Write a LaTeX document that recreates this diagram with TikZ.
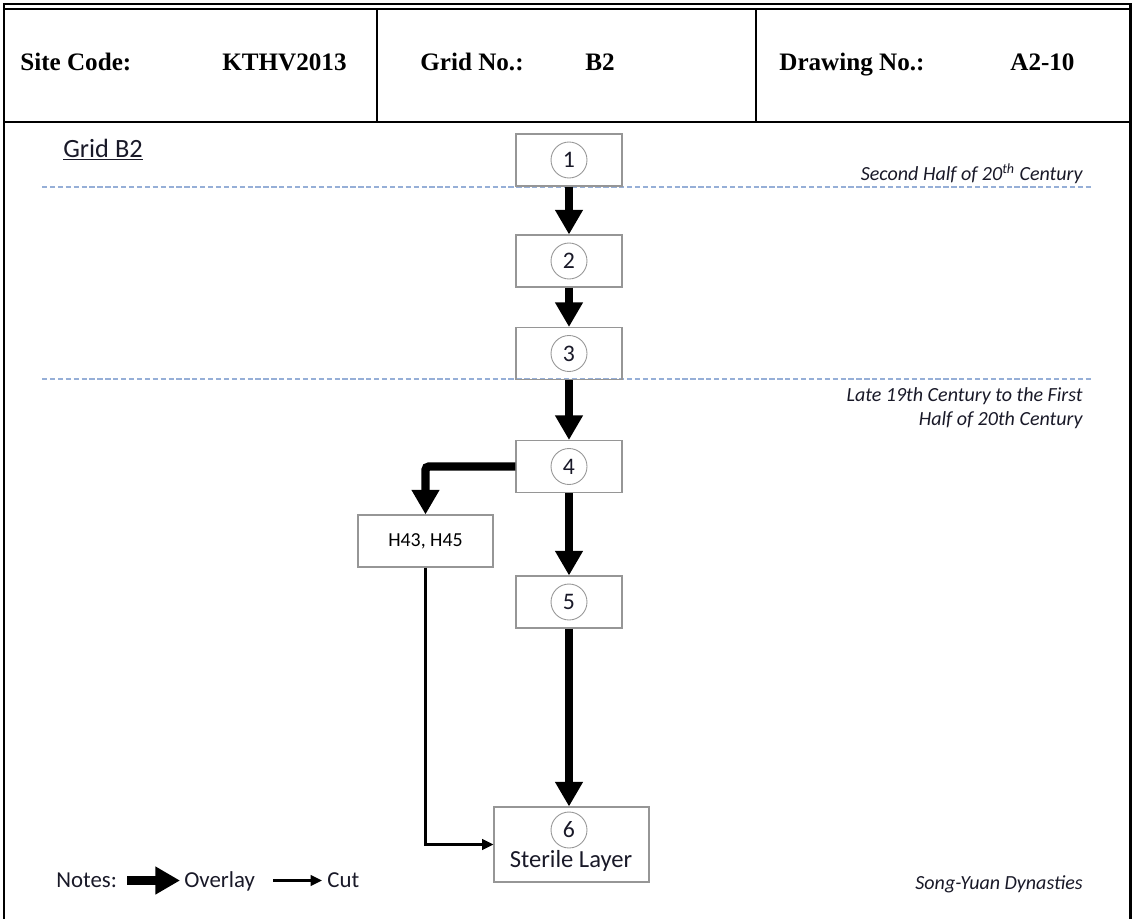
\documentclass[tikz,border=0pt]{standalone}
\usepackage{fontspec}
\setmainfont{Carlito}
\newfontfamily\headfont{Liberation Serif}
\usetikzlibrary{arrows.meta}

\definecolor{boxgray}{RGB}{150,150,150}
\definecolor{dashblue}{RGB}{150,175,215}
\definecolor{inkdark}{RGB}{25,25,40}

\begin{document}
\begin{tikzpicture}[x=0.02cm, y=-0.02cm,
    layer/.style={draw=boxgray, line width=0.6pt, minimum width=2.12cm, minimum height=1.04cm, inner sep=0pt},
    num/.style={draw=boxgray, line width=0.5pt, circle, minimum size=0.72cm, inner sep=0pt,
        font=\fontsize{13.5}{13.5}\selectfont, text=inkdark},
    overlay arrow/.style={line width=4.8pt, -{Triangle[length=14pt,width=15pt]}},
    cut arrow/.style={line width=1.5pt, -{Triangle[length=6.5pt,width=6pt]}},
    period/.style={font=\fontsize{11.4}{13.6}\selectfont\itshape, anchor=east, align=right,
        inner sep=0pt, text=inkdark},
    head/.style={font=\headfont\bfseries\fontsize{14.3}{16}\selectfont, anchor=base west, inner sep=0pt},
    plain/.style={anchor=base west, inner sep=0pt, text=inkdark},
    era line/.style={dashblue, line width=1.2pt, dash pattern=on 3pt off 1.5pt}]
    \useasboundingbox (0,0) rectangle (1132,919);

    % frame and header
    \draw[line width=1.7pt] (4,919) -- (4,4) -- (1130,4) -- (1130,919);
    \draw[line width=1pt] (4,9) -- (1130,9);
    \draw[line width=1.2pt] (4,122) -- (1130,122);
    \draw[line width=1.2pt] (377,9) -- (377,122);
    \draw[line width=1.2pt] (756,9) -- (756,122);

    \node[head] (site) at (20,71) {Site Code:};
    \node[head] (sitecode) at (222,71) {KTHV2013};
    \node[head] (grid) at (420,71) {Grid No.:};
    \node[head] (gridno) at (585,71) {B2};
    \node[head] (drawing) at (779,71) {Drawing No.:};
    \node[head] (drawingno) at (1010,71) {A2-10};

    % periods
    \node[plain, font=\fontsize{15}{15}\selectfont] (title) at (63,157) {\underline{Grid B2}};
    \draw[era line] (42,187) -- (1093,187);
    \draw[era line] (42,379) -- (1093,379);
    \node[period] (p1) at (1083,174) {Second Half of 20\textsuperscript{th} Century};
    \node[period] (p2) at (1083,408) {Late 19th Century to the First\\Half of 20th Century};
    \node[period] (p3) at (1083,884) {Song-Yuan Dynasties};

    % layers
    \foreach \n/\y in {1/160,2/261,3/353.5,4/466.5,5/602} {
        \node[layer] (b\n) at (569,\y) {};
        \node[num] (c\n) at (b\n) {\n};
    }
    \node[layer, minimum width=2.7cm] (h43) at (425.5,541) {\fontsize{11.3}{11.3}\selectfont H43, H45};
    \node[layer, minimum width=3.1cm, minimum height=1.5cm] (b6) at (571.5,844.5) {};
    \node[num] (c6) at (569,830) {6};
    \node[inner sep=0pt, text=inkdark, font=\fontsize{14}{14}\selectfont] (sterile) at (571,861) {Sterile Layer};

    \draw[overlay arrow] (b1) -- (b2);
    \draw[overlay arrow] (b2) -- (b3);
    \draw[overlay arrow] (b3) -- (b4);
    \draw[overlay arrow] (b4) -- (b5);
    \draw[overlay arrow] (b5) -- (b5.south |- b6.north);
    \draw[overlay arrow, rounded corners=2pt] (b4.west) -| (h43.north);
    \draw[cut arrow] (h43.south) |- (b6.west);

    % legend
    \node[plain, font=\fontsize{13}{13}\selectfont] (notes) at (56,887) {Notes:};
    \node[plain, font=\fontsize{13}{13}\selectfont] (lgover) at (184,887) {Overlay};
    \node[plain, font=\fontsize{13}{13}\selectfont] (lgcut) at (327,887) {Cut};
    \draw[overlay arrow] ([xshift=0.2cm, yshift=0.13cm]notes.base east) -- ([xshift=-0.08cm, yshift=0.13cm]lgover.base west);
    \draw[cut arrow] ([xshift=0.36cm, yshift=0.13cm]lgover.base east) -- ([xshift=-0.1cm, yshift=0.13cm]lgcut.base west);
\end{tikzpicture}
\end{document}
